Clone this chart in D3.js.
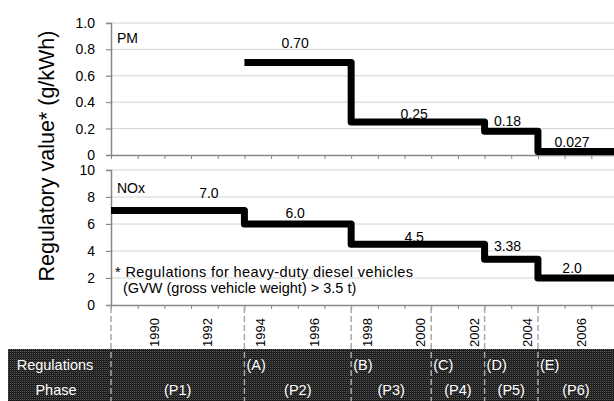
<!DOCTYPE html>
<html>
<head>
<meta charset="utf-8">
<script src="https://cdn.jsdelivr.net/npm/d3@7"></script>
<style>
  body { margin: 0; background: #fff; }
  svg { display: block; font-family: "Liberation Sans", Arial, sans-serif; }
</style>
</head>
<body>
<div id="chart"></div>
<script>
// model years on the category axis
const years = d3.range(1989, 2008);
const yearLabels = [1990, 1992, 1994, 1996, 1998, 2000, 2002, 2004, 2006];

// regulatory steps: start year, end year, value
const noxStart = [1989, 1994, 1998, 2003, 2005];
const noxEnd = [1994, 1998, 2003, 2005, 2008];
const noxValues = [7.0, 6.0, 4.5, 3.38, 2.0];
const noxText = ["7.0", "6.0", "4.5", "3.38", "2.0"];

const pmStart = [1994, 1998, 2003, 2005];
const pmEnd = [1998, 2003, 2005, 2008];
const pmValues = [0.70, 0.25, 0.18, 0.027];
const pmText = ["0.70", "0.25", "0.18", "0.027"];

// where the value labels sit (fractional year)
const noxLabelAt = [1992.67, 1995.9, 2000.36, 2003.86, 2006.28];
const pmLabelAt = [1995.9, 2000.36, 2003.86, 2006.28];

// regulation / phase rows
const regYears = [1989, 1994, 1998, 2001, 2003, 2005];
const regNames = ["", "(A)", "(B)", "(C)", "(D)", "(E)"];
const phaseNames = ["(P1)", "(P2)", "(P3)", "(P4)", "(P5)", "(P6)"];
const phaseEnd = [1994, 1998, 2001, 2003, 2005, 2008];

const pmTicks = [0, 0.2, 0.4, 0.6, 0.8, 1.0];
const noxTicks = [0, 2, 4, 6, 8, 10];

const width = 614, height = 401;
const left = 111;

const svg = d3.select("#chart").append("svg")
  .attr("width", width)
  .attr("height", height);

const x = d3.scaleBand()
  .domain(years)
  .range([left, 618]);
const step = x.step();
const xYear = yr => left + (yr - years[0]) * step;

const yPM = d3.scaleLinear().domain([0, 1]).range([155, 23]);
const yNOx = d3.scaleLinear().domain([0, 10]).range([305, 170]);

const gridColor = "#d4d4d4";
const axisColor = "#868686";

function panel(y, ticks, fmt, name, nameY) {
  svg.append("g")
    .selectAll("line")
    .data(ticks.slice(1))
    .join("line")
    .attr("x1", left - 5)
    .attr("x2", width)
    .attr("y1", d => y(d))
    .attr("y2", d => y(d))
    .attr("stroke", gridColor)
    .attr("stroke-width", 1);

  const ax = svg.append("g")
    .attr("transform", `translate(${left},0)`)
    .call(d3.axisLeft(y).tickValues(ticks).tickFormat(fmt).tickSize(5).tickPadding(11));
  ax.select(".domain").attr("stroke", axisColor).attr("stroke-width", 1.5);
  ax.selectAll(".tick line").attr("stroke", axisColor);
  ax.selectAll("text").attr("font-size", 14).attr("fill", "#000")
    .attr("font-family", "Liberation Sans, Arial, sans-serif");

  const bx = svg.append("g")
    .attr("transform", `translate(0,${y(0)})`)
    .call(d3.axisBottom(d3.scaleLinear().domain([0, years.length]).range([left, 618]))
      .tickValues(d3.range(0, years.length + 1)).tickFormat("").tickSize(4).tickSizeOuter(0));
  bx.select(".domain").attr("stroke", axisColor).attr("stroke-width", 1.5);
  bx.selectAll(".tick line").attr("stroke", axisColor);

  svg.append("text")
    .attr("x", left + 6)
    .attr("y", nameY)
    .attr("font-size", 14)
    .text(name);
}

panel(yPM, pmTicks, d => d === 0 ? "0" : d3.format(".1f")(d), "PM", 43);
panel(yNOx, noxTicks, d3.format("d"), "NOx", 193);

function stepLine(starts, ends, values, y) {
  const pts = [];
  starts.forEach((s, i) => {
    pts.push([xYear(s), y(values[i])]);
    pts.push([xYear(ends[i]), y(values[i])]);
  });
  svg.append("path")
    .datum(pts)
    .attr("fill", "none")
    .attr("stroke", "#000")
    .attr("stroke-width", 7)
    .attr("stroke-linejoin", "round")
    .attr("d", d3.line());
}

stepLine(pmStart, pmEnd, pmValues, yPM);
stepLine(noxStart, noxEnd, noxValues, yNOx);

const pmLift = [15, 3, 5, 4.5];
const noxLift = [12.5, 6, 2, 8.5, 5];

svg.append("g")
  .selectAll("text")
  .data(pmValues)
  .join("text")
  .attr("x", (d, i) => xYear(pmLabelAt[i]))
  .attr("y", (d, i) => yPM(d) - pmLift[i])
  .attr("text-anchor", "middle")
  .attr("font-size", 14)
  .text((d, i) => pmText[i]);

svg.append("g")
  .selectAll("text")
  .data(noxValues)
  .join("text")
  .attr("x", (d, i) => xYear(noxLabelAt[i]))
  .attr("y", (d, i) => yNOx(d) - noxLift[i])
  .attr("text-anchor", "middle")
  .attr("font-size", 14)
  .text((d, i) => noxText[i]);

// footnote
svg.append("text")
  .attr("x", 115)
  .attr("y", 277)
  .attr("font-size", 14.5)
  .attr("textLength", 298)
  .attr("lengthAdjust", "spacing")
  .text("* Regulations for heavy-duty diesel vehicles");
svg.append("text")
  .attr("x", 123)
  .attr("y", 293)
  .attr("font-size", 14.5)
  .text("(GVW (gross vehicle weight) > 3.5 t)");

// y axis title
svg.append("text")
  .attr("transform", "translate(54,156) rotate(-90)")
  .attr("text-anchor", "middle")
  .attr("font-size", 21.5)
  .text("Regulatory value* (g/kWh)");

// year labels
svg.append("g")
  .selectAll("text")
  .data(yearLabels)
  .join("text")
  .attr("transform", d => `translate(${x(d) + x.bandwidth() / 2 + 3},318) rotate(-90)`)
  .attr("text-anchor", "end")
  .attr("dy", "0.35em")
  .attr("font-size", 13)
  .text(d => d);

// dark band with halftone pattern
const defs = svg.append("defs");
const pat = defs.append("pattern")
  .attr("id", "halftone")
  .attr("width", 2)
  .attr("height", 2)
  .attr("patternUnits", "userSpaceOnUse");
pat.append("rect").attr("width", 2).attr("height", 2).attr("fill", "#5a5a5a");
pat.append("rect").attr("width", 1).attr("height", 1).attr("fill", "#111");
pat.append("rect").attr("x", 1).attr("y", 1).attr("width", 1).attr("height", 1).attr("fill", "#1e1e1e");
pat.append("rect").attr("x", 1).attr("width", 1).attr("height", 1).attr("fill", "#2a2a2a");

svg.append("rect")
  .attr("x", 8)
  .attr("y", 349)
  .attr("width", width - 8)
  .attr("height", height - 349)
  .attr("fill", "url(#halftone)");

// phase boundaries
svg.append("g")
  .selectAll("line")
  .data(regYears)
  .join("line")
  .attr("x1", d => xYear(d))
  .attr("x2", d => xYear(d))
  .attr("y1", 307)
  .attr("y2", height)
  .attr("stroke", "#a8a8a8")
  .attr("stroke-width", 1.5)
  .attr("stroke-dasharray", "6,3");

svg.append("text")
  .attr("x", 55)
  .attr("y", 369.5)
  .attr("text-anchor", "middle")
  .attr("font-size", 14.5)
  .attr("fill", "#fff")
  .text("Regulations");
svg.append("text")
  .attr("x", 56)
  .attr("y", 395)
  .attr("text-anchor", "middle")
  .attr("font-size", 14.5)
  .attr("fill", "#fff")
  .text("Phase");

svg.append("g")
  .selectAll("text")
  .data(regNames)
  .join("text")
  .attr("x", (d, i) => xYear(regYears[i]) + 2)
  .attr("y", 369.5)
  .attr("font-size", 14.5)
  .attr("fill", "#fff")
  .text(d => d);

svg.append("g")
  .selectAll("text")
  .data(phaseNames)
  .join("text")
  .attr("x", (d, i) => (xYear(regYears[i]) + Math.min(xYear(phaseEnd[i]), width)) / 2)
  .attr("y", 395)
  .attr("text-anchor", "middle")
  .attr("font-size", 14.5)
  .attr("fill", "#fff")
  .text(d => d);
</script>
</body>
</html>
